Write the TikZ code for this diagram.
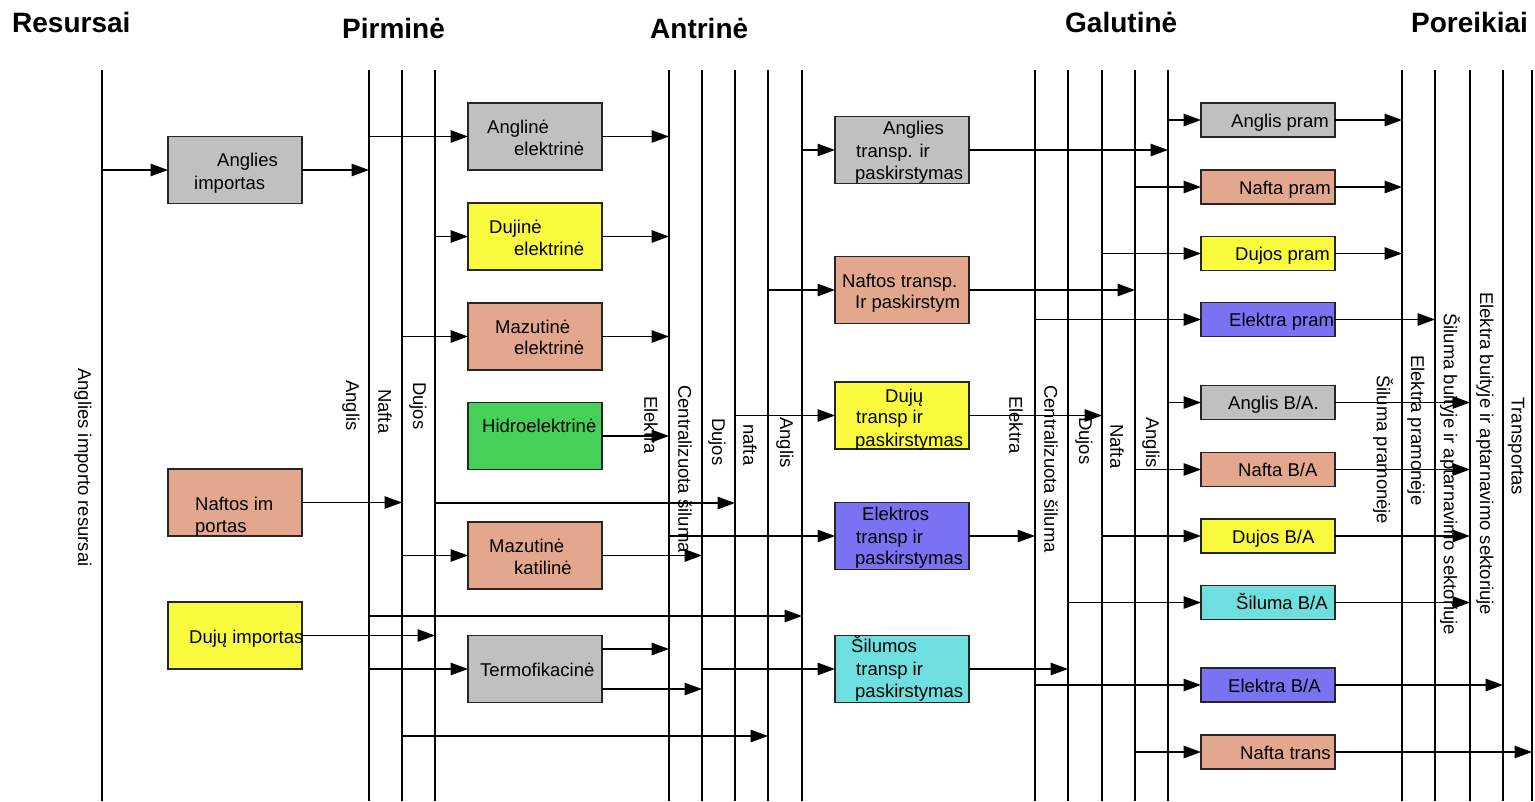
\documentclass[tikz,border=0pt]{standalone}
\usepackage{fontspec}
\setmainfont{Liberation Sans}
\usetikzlibrary{arrows.meta}
\definecolor{cgray}{HTML}{C0C0C0}
\definecolor{csalmon}{HTML}{E3A78D}
\definecolor{cyellow}{HTML}{FAFA3E}
\definecolor{cgreen}{HTML}{45D058}
\definecolor{cblue}{HTML}{7A72F2}
\definecolor{ccyan}{HTML}{6EDEDE}
\tikzset{
  bus/.style={line width=1.5pt},
  arr/.style={line width=1.4pt, -{Triangle[length=17.5pt,width=12.5pt]}},
  box/.style={draw=black!85, line width=1.2pt, minimum width=134pt, inner sep=0pt, outer sep=0pt},
  tall/.style={box, minimum height=67pt},
  short/.style={box, minimum height=34pt},
  txt/.style={anchor=base west, inner sep=0pt},
  vtxt/.style={rotate=-90, anchor=west, inner sep=0pt},
  hdr/.style={anchor=base west, inner sep=0pt, font=\fontsize{28}{30}\selectfont\bfseries}
}
\begin{document}
\begin{tikzpicture}[x=1pt,y=-1pt,font=\fontsize{18.5}{22}\selectfont]
\useasboundingbox (0,0) rectangle (1535,801);
% bus lines
\coordinate (bot) at (0,801);
\foreach \n/\x in {R/102,PA/369,PN/402,PD/435,AE/669,AS/702,AD/735,AN/768,AA/802,GE/1035,GS/1068,GD/1102,GN/1135,GA/1168,P1/1402,P2/1435,P3/1470,P4/1503,P5/1532}{
  \coordinate (\n) at (\x,70);
}
\foreach \n in {R,PA,PN,PD,AE,AS,AD,AN,AA,GE,GS,GD,GN,GA,P1,P2,P3,P4,P5}{
  \draw[bus] (\n) -- (\n |- bot);
}
% y levels
\coordinate (y503) at (0,503);
\coordinate (y616) at (0,616);
\coordinate (y736) at (0,736);

% boxes
\node[tall, fill=cgray]   (ai) at (235,170) {};
\node[tall, fill=csalmon] (ni) at (235,502.5) {};
\node[tall, fill=cyellow] (di) at (235,635.5) {};

\node[tall, fill=cgray]   (ae) at (535,136.5) {};
\node[tall, fill=cyellow] (de) at (535,236.5) {};
\node[tall, fill=csalmon] (me) at (535,336.5) {};
\node[tall, fill=cgreen]  (he) at (535,436) {};
\node[tall, fill=csalmon] (mk) at (535,555.5) {};
\node[tall, fill=cgray]   (tf) at (535,669) {};

\node[tall, fill=cgray]   (at) at (902,150) {};
\node[tall, fill=csalmon] (nt) at (902,290) {};
\node[tall, fill=cyellow] (dt) at (902,415.5) {};
\node[tall, fill=cblue]   (et) at (902,536) {};
\node[tall, fill=ccyan]   (st) at (902,669) {};

\node[short, fill=cgray]   (ap)  at (1268,120) {};
\node[short, fill=csalmon] (np)  at (1268,187) {};
\node[short, fill=cyellow] (dp)  at (1268,253.5) {};
\node[short, fill=cblue]   (ep)  at (1268,319.5) {};
\node[short, fill=cgray]   (aba) at (1268,402.5) {};
\node[short, fill=csalmon] (nba) at (1268,469.5) {};
\node[short, fill=cyellow] (dba) at (1268,536) {};
\node[short, fill=ccyan]   (sba) at (1268,602.5) {};
\node[short, fill=cblue]   (eba) at (1268,685) {};
\node[short, fill=csalmon] (ntr) at (1268,752) {};

\coordinate (tf1) at ([yshift=20pt]tf.east);
\coordinate (tf2) at ([yshift=-20pt]tf.east);

% connectors: resources
\draw[arr] (ai.west -| R) -- (ai.west);
\draw[arr] (ai.east) -- (ai.east -| PA);
\draw[arr] (ni.east) -- (ni.east -| PN);
\draw[arr] (di.east) -- (di.east -| PD);
% primary
\draw[arr] (ae.west -| PA) -- (ae.west);
\draw[arr] (de.west -| PD) -- (de.west);
\draw[arr] (me.west -| PN) -- (me.west);
\draw[arr] (mk.west -| PN) -- (mk.west);
\draw[arr] (tf.west -| PA) -- (tf.west);
\draw[arr] (PD |- y503) -- (AD |- y503);
\draw[arr] (PA |- y616) -- (AA |- y616);
\draw[arr] (PN |- y736) -- (AN |- y736);
\draw[arr] (ae.east) -- (ae.east -| AE);
\draw[arr] (de.east) -- (de.east -| AE);
\draw[arr] (me.east) -- (me.east -| AE);
\draw[arr] (he.east) -- (he.east -| AE);
\draw[arr] (mk.east) -- (mk.east -| AS);
\draw[arr] (tf1) -- (tf1 -| AE);
\draw[arr] (tf2) -- (tf2 -| AS);
% secondary
\draw[arr] (at.west -| AA) -- (at.west);
\draw[arr] (nt.west -| AN) -- (nt.west);
\draw[arr] (dt.west -| AD) -- (dt.west);
\draw[arr] (et.west -| AE) -- (et.west);
\draw[arr] (st.west -| AS) -- (st.west);
\draw[arr] (at.east) -- (at.east -| GA);
\draw[arr] (nt.east) -- (nt.east -| GN);
\draw[arr] (dt.east) -- (dt.east -| GD);
\draw[arr] (et.east) -- (et.east -| GE);
\draw[arr] (st.east) -- (st.east -| GS);
% final
\draw[arr] (ap.west -| GA) -- (ap.west);
\draw[arr] (np.west -| GN) -- (np.west);
\draw[arr] (dp.west -| GD) -- (dp.west);
\draw[arr] (ep.west -| GE) -- (ep.west);
\draw[arr] (aba.west -| GA) -- (aba.west);
\draw[arr] (nba.west -| GN) -- (nba.west);
\draw[arr] (dba.west -| GD) -- (dba.west);
\draw[arr] (sba.west -| GS) -- (sba.west);
\draw[arr] (eba.west -| GE) -- (eba.west);
\draw[arr] (ntr.west -| GN) -- (ntr.west);
\draw[arr] (ap.east) -- (ap.east -| P1);
\draw[arr] (np.east) -- (np.east -| P1);
\draw[arr] (dp.east) -- (dp.east -| P1);
\draw[arr] (ep.east) -- (ep.east -| P2);
\draw[arr] (aba.east) -- (aba.east -| P3);
\draw[arr] (nba.east) -- (nba.east -| P3);
\draw[arr] (dba.east) -- (dba.east -| P3);
\draw[arr] (sba.east) -- (sba.east -| P3);
\draw[arr] (eba.east) -- (eba.east -| P4);
\draw[arr] (ntr.east) -- (ntr.east -| P5);

% headers
\node[hdr] (h1) at (12,32) {Resursai};
\node[hdr] (h2) at (342,38) {Pirminė};
\node[hdr] (h3) at (650,38) {Antrinė};
\node[hdr] (h4) at (1065,32) {Galutinė};
\node[hdr] (h5) at (1411,32) {Poreikiai};

% box texts
\node[txt] (t1a) at (217,166) {Anglies};
\node[txt] (t1b) at (194,189) {importas};
\node[txt] (t2a) at (195,510) {Naftos im};
\node[txt] (t2b) at (195,532) {portas};
\node[txt] (t3a) at (189,643) {Dujų importas};

\node[txt] (t4a) at (487,133) {Anglinė};
\node[txt] (t4b) at (514,155) {elektrinė};
\node[txt] (t5a) at (489,233) {Dujinė};
\node[txt] (t5b) at (514,255) {elektrinė};
\node[txt] (t6a) at (495,333) {Mazutinė};
\node[txt] (t6b) at (514,354) {elektrinė};
\node[txt] (t7a) at (482,432) {Hidroelektrinė};
\node[txt] (t8a) at (489,552) {Mazutinė};
\node[txt] (t8b) at (514,574) {katilinė};
\node[txt] (t9a) at (480,676) {Termofikacinė};

\node[txt] (u1a) at (883,134) {Anglies};
\node[txt] (u1b) at (856,157) {transp. ir};
\node[txt] (u1c) at (855,179) {paskirstymas};
\node[txt] (u2a) at (842,287) {Naftos transp.};
\node[txt] (u2b) at (855,308) {Ir paskirstym};
\node[txt] (u3a) at (885,402) {Dujų};
\node[txt] (u3b) at (856,423) {transp ir};
\node[txt] (u3c) at (855,446) {paskirstymas};
\node[txt] (u4a) at (862,520) {Elektros};
\node[txt] (u4b) at (856,543) {transp ir};
\node[txt] (u4c) at (855,564) {paskirstymas};
\node[txt] (u5a) at (851,652) {Šilumos};
\node[txt] (u5b) at (856,675) {transp ir};
\node[txt] (u5c) at (855,697) {paskirstymas};

\node[txt] (v1) at (1231,127) {Anglis pram};
\node[txt] (v2) at (1239,194) {Nafta pram};
\node[txt] (v3) at (1235,260.5) {Dujos pram};
\node[txt] (v4) at (1229,326.5) {Elektra pram};
\node[txt] (v5) at (1228,409.5) {Anglis B/A.};
\node[txt] (v6) at (1238,476.5) {Nafta B/A};
\node[txt] (v7) at (1232,543) {Dujos B/A};
\node[txt] (v8) at (1236,609.5) {Šiluma B/A};
\node[txt] (v9) at (1228,692) {Elektra B/A};
\node[txt] (v10) at (1240,759) {Nafta trans};

% vertical labels
\node[vtxt] (w1) at (83,368) {Anglies importo resursai};
\node[vtxt] (w2) at (351,380) {Anglis};
\node[vtxt] (w3) at (385,389) {Nafta};
\node[vtxt] (w4) at (418,382) {Dujos};
\node[vtxt] (w5) at (651,396) {Elektra};
\node[vtxt] (w6) at (685,385) {Centralizuota šiluma};
\node[vtxt] (w7) at (717,418) {Dujos};
\node[vtxt] (w8) at (750,424) {nafta};
\node[vtxt] (w9) at (785,417) {Anglis};
\node[vtxt] (w10) at (1016,396) {Elektra};
\node[vtxt] (w11) at (1051,385) {Centralizuota šiluma};
\node[vtxt] (w12) at (1084,417) {Dujos};
\node[vtxt] (w13) at (1117,424) {Nafta};
\node[vtxt] (w14) at (1151,417) {Anglis};
\node[vtxt] (w15) at (1383,375) {Šiluma pramonėje};
\node[vtxt] (w16) at (1416,355) {Elektra pramonėje};
\node[vtxt] (w17) at (1450,313) {Šiluma buityje ir aptarnavimo sektoriuje};
\node[vtxt] (w18) at (1485,292) {Elektra buityje ir aptarnavimo sektoriuje};
\node[vtxt] (w19) at (1516,397) {Transportas};
\end{tikzpicture}
\end{document}
